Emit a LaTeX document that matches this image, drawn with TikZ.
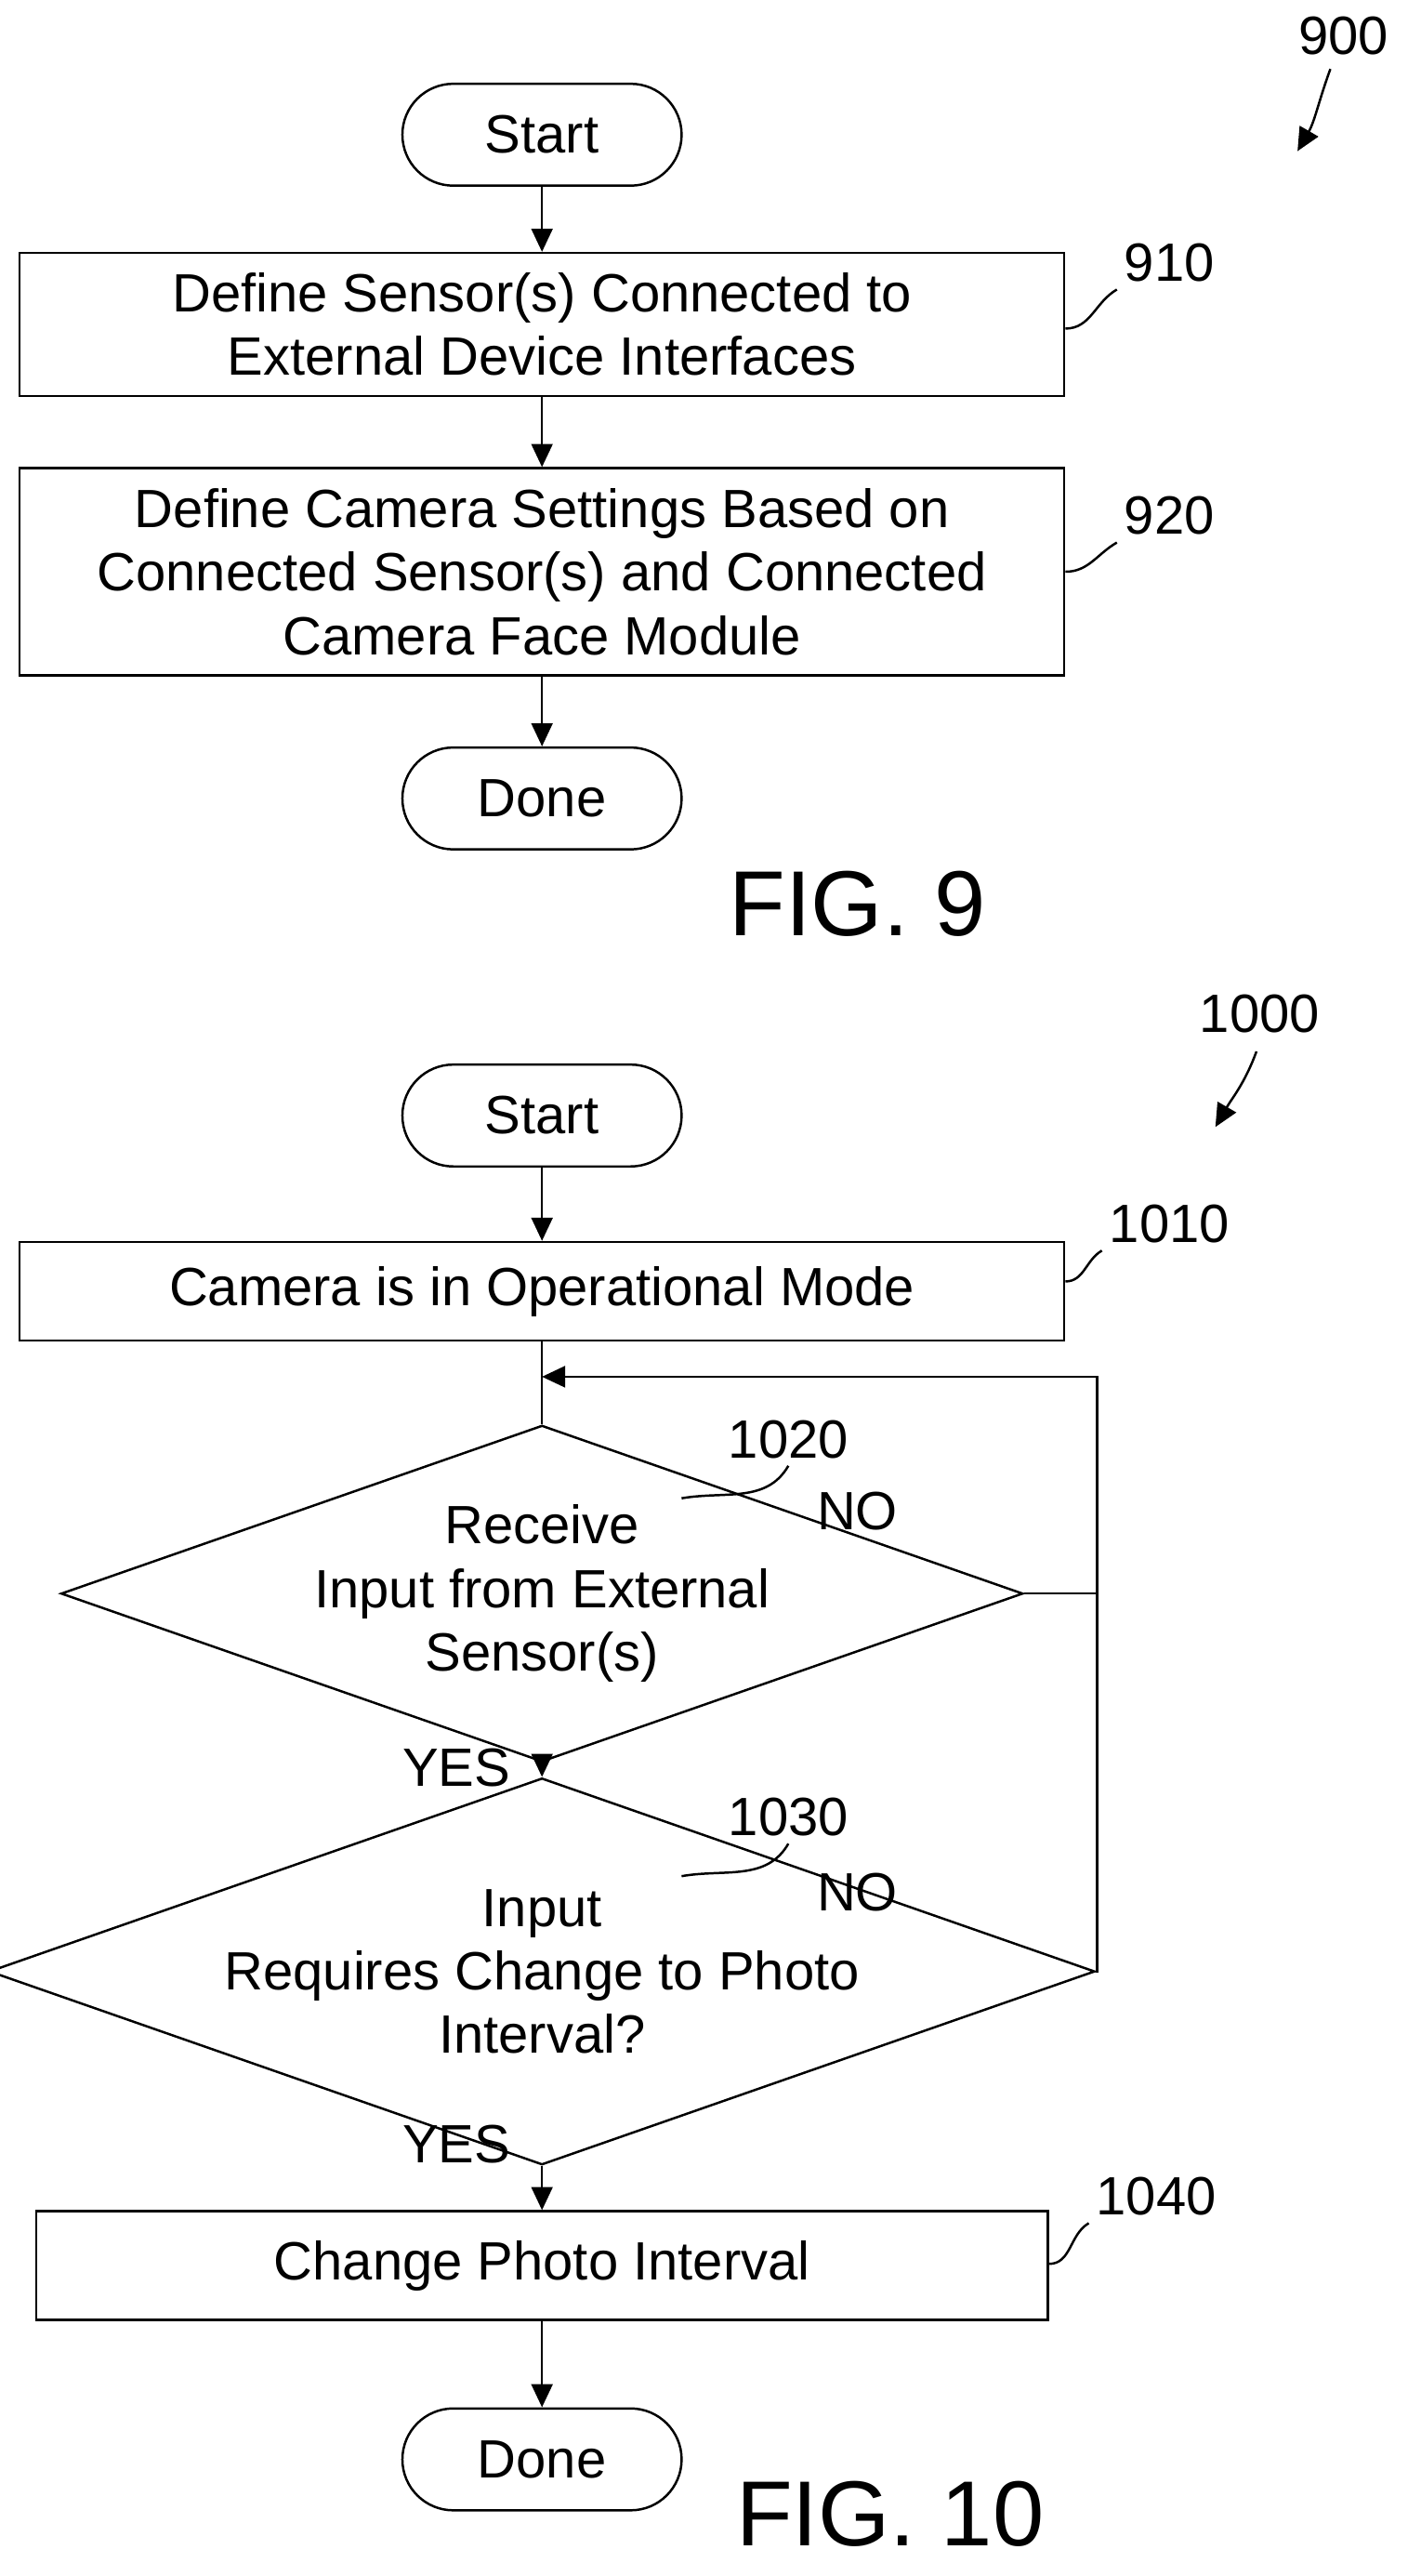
\documentclass[tikz,border=0pt]{standalone}
\usepackage{fontspec}
\setmainfont{Liberation Sans}
\usetikzlibrary{arrows.meta,shapes.geometric,positioning}
\begin{document}
\begin{tikzpicture}[x=0.03cm,y=-0.03cm,line width=1.2pt,
  every node/.style={font=\fontsize{28}{33}\selectfont},
  term/.style={draw,rounded corners=0.93cm,minimum width=5.1cm,minimum height=1.86cm,inner sep=0pt},
  block/.style={draw,minimum width=19.08cm,align=center,inner sep=0pt},
  decision/.style={draw,diamond,aspect=2.86,minimum width=14.58cm,minimum height=5.1cm,inner sep=0pt,align=center},
  ref/.style={font=\fontsize{28}{33}\selectfont},
  fig/.style={font=\fontsize{48}{56}\selectfont},
  arr/.style={-{Triangle[length=12pt,width=11pt]}}]
\useasboundingbox (0,0) rectangle (857,1568);
% FIG. 9
\node[ref] (n900) at (818,22) {900};
\coordinate (a900) at (790,92);
\draw[arr] (810,42) to[out=250,in=60] (a900);
\node[term] (start9) at (330,82) {Start};
\node[block,minimum height=2.61cm] (s910) at (330,197.5) {Define Sensor(s) Connected to\\External Device Interfaces};
\node[block,minimum height=3.78cm] (s920) at (330,348) {Define Camera Settings Based on\\Connected Sensor(s) and Connected\\Camera Face Module};
\node[term] (done9) at (330,486) {Done};
\node[ref] (n910) at (712,160) {910};
\node[ref] (n920) at (712,314) {920};
\draw (s910.east |- 0,200) to[out=0,in=210] (n910.south west);
\draw (s920.east |- 0,348) to[out=0,in=210] (n920.south west);
\draw[arr] (start9) -- (s910);
\draw[arr] (s910) -- (s920);
\draw[arr] (s920) -- (done9);
\node[fig] (fig9) at (522,550) {FIG. 9};
% FIG. 10
\node[ref] (n1000) at (767,617) {1000};
\coordinate (a1000) at (740,686);
\draw[arr] (765,640) to[out=250,in=60] (a1000);
\node[term] (start10) at (330,679) {Start};
\node[block,minimum height=1.8cm] (s1010) at (330,786) {Camera is in Operational Mode};
\node[decision] (d1020) at (330,970) {Receive\\Input from External\\Sensor(s)};
\node[decision] (d1030) at (330,1200) {Input\\Requires Change to Photo\\Interval?};
\node[block,minimum width=18.48cm,minimum height=1.98cm] (s1040) at (330,1379) {Change Photo Interval};
\node[term] (done10) at (330,1497) {Done};
\node[ref] (n1010) at (712,745) {1010};
\node[ref] (n1020) at (480,876) {1020};
\node[ref] (n1030) at (480,1106) {1030};
\node[ref] (n1040) at (704,1337) {1040};
\draw (s1010.east |- 0,780) to[out=0,in=210] (n1010.south west);
\draw (415,912) to[out=10,in=240] (n1020.south);
\draw (415,1142) to[out=10,in=240] (n1030.south);
\draw (s1040.east |- 0,1378) to[out=0,in=210] (n1040.south west);
\node[ref] (no1) at (522,920) {NO};
\node[ref] (no2) at (522,1152) {NO};
\node[ref] (yes1) at (278,1076) {YES};
\node[ref] (yes2) at (278,1305) {YES};
\coordinate (loop) at (330,838);
\coordinate (rtop) at (668,838);
\draw[arr] (start10) -- (s1010);
\draw (s1010) -- (d1020);
\draw (d1020.east) -- (rtop |- d1020.east);
\draw[arr] (d1030.east) -| (rtop) -- (loop);
\draw[arr] (d1020) -- (d1030);
\draw[arr] (d1030) -- (s1040);
\draw[arr] (s1040) -- (done10);
\node[fig] (fig10) at (542,1530) {FIG. 10};
\end{tikzpicture}
\end{document}
